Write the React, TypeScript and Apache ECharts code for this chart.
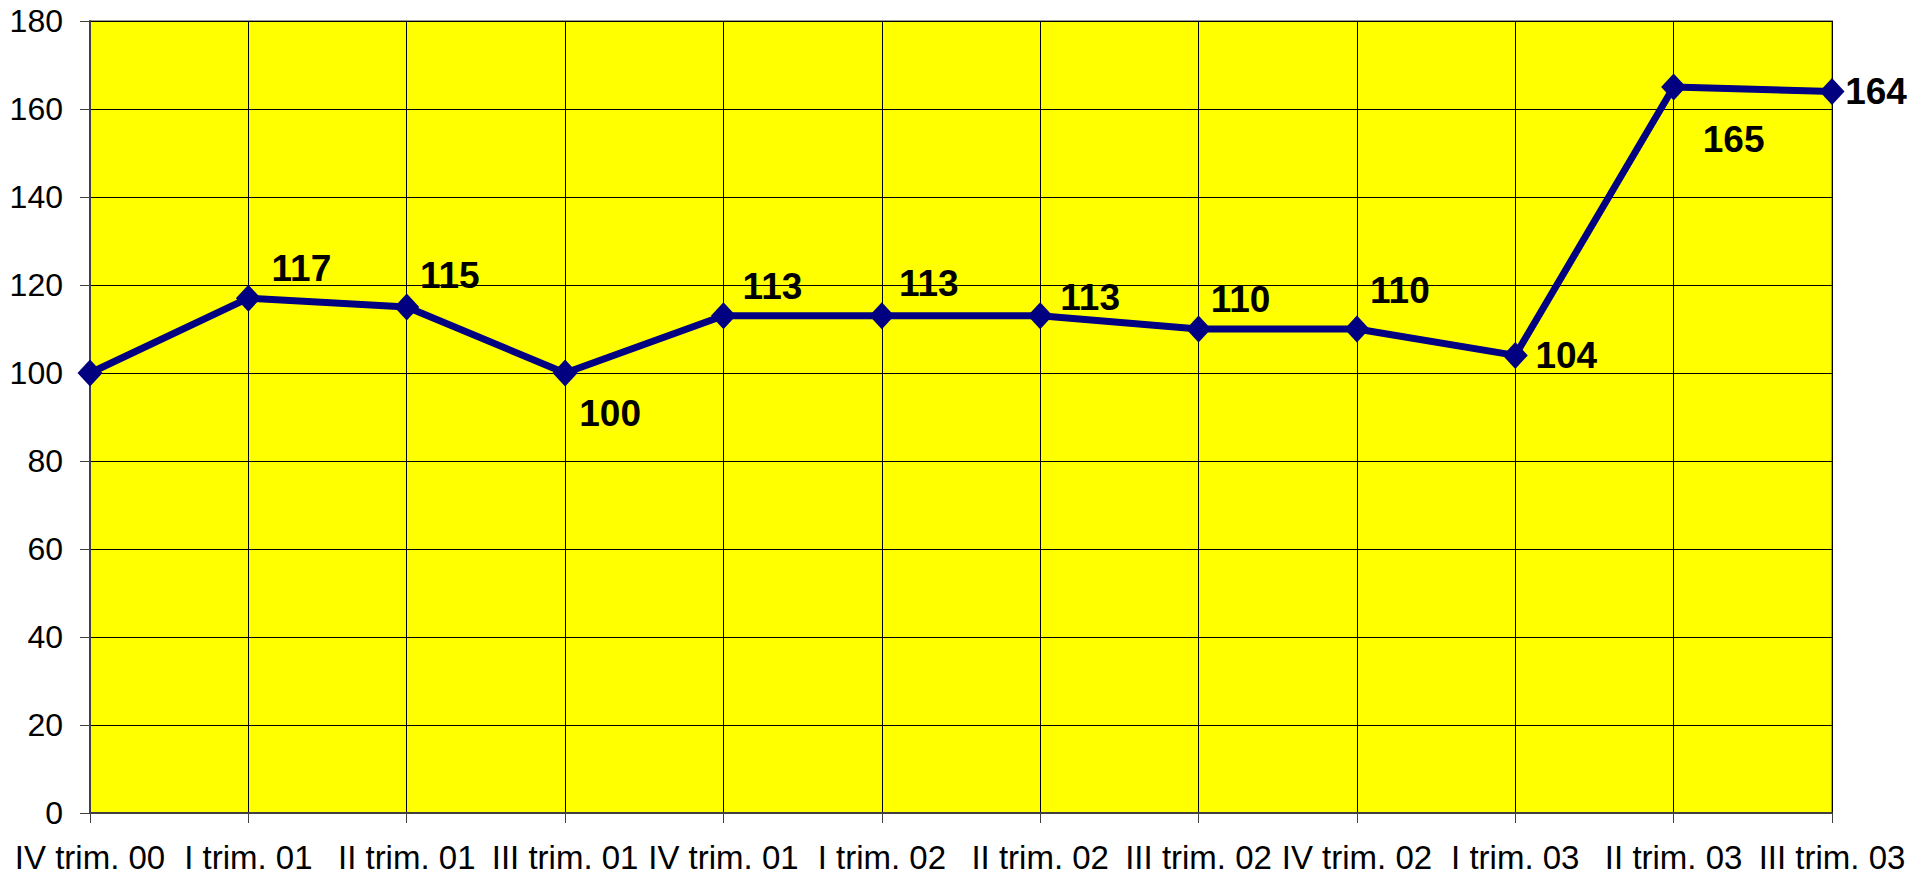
import React, { useEffect, useRef } from "react";
import * as echarts from "echarts";

const categories = [
  "IV trim. 00", "I trim. 01", "II trim. 01", "III trim. 01", "IV trim. 01", "I trim. 02",
  "II trim. 02", "III trim. 02", "IV trim. 02", "I trim. 03", "II trim. 03", "III trim. 03",
];
const values = [100, 117, 115, 100, 113, 113, 113, 110, 110, 104, 165, 164];
const showLabel = [false, true, true, true, true, true, true, true, true, true, true, true];
// label centre offsets relative to the point (style only)
const labelOffsets: [number, number][] = [
  [0, 0], [53, -30], [43, -32], [45, 40], [49, -29], [47, -32],
  [50, -18], [42, -30], [43, -39], [51, 0], [60, 52], [44, 0],
];
const yTicks = { min: 0, max: 180, interval: 20 };

export default function App() {
  const ref = useRef<HTMLDivElement>(null);
  useEffect(() => {
    if (!ref.current) return;
    const chart = echarts.init(ref.current, undefined, { renderer: "svg" });
    const data = values.map((v, i) => ({
      value: v,
      label: {
        show: showLabel[i],
        position: "inside",
        offset: labelOffsets[i],
        align: "center",
        verticalAlign: "middle",
      },
    }));
    chart.setOption({
      animation: false,
      grid: {
        left: 90,
        right: 94,
        top: 21,
        bottom: 65,
        show: true,
        backgroundColor: "#FFFF00",
        borderColor: "#999999",
        borderWidth: 2,
      },
      xAxis: {
        type: "category",
        data: categories,
        boundaryGap: false,
        axisLine: { show: true, lineStyle: { color: "#404040", width: 2 } },
        axisTick: { show: true, length: 10, lineStyle: { color: "#404040", width: 1 } },
        axisLabel: {
          color: "#000",
          fontSize: 33,
          fontFamily: "Liberation Sans, Arial, sans-serif",
          margin: 28,
          interval: 0,
        },
        splitLine: { show: true, lineStyle: { color: "#000", width: 1 } },
      },
      yAxis: {
        type: "value",
        min: yTicks.min,
        max: yTicks.max,
        interval: yTicks.interval,
        axisLine: { show: true, lineStyle: { color: "#404040", width: 2 } },
        axisTick: { show: true, length: 10, lineStyle: { color: "#404040", width: 1 } },
        axisLabel: {
          color: "#000",
          fontSize: 32,
          fontFamily: "Liberation Sans, Arial, sans-serif",
          margin: 27,
        },
        splitLine: { show: true, lineStyle: { color: "#000", width: 1 } },
      },
      series: [
        {
          type: "line",
          data,
          symbol: "diamond",
          symbolSize: [25, 27],
          lineStyle: { color: "#000080", width: 7 },
          itemStyle: { color: "#000080" },
          label: {
            color: "#000",
            fontSize: 37,
            fontWeight: "bold",
            fontFamily: "Liberation Sans, Arial, sans-serif",
          },
          z: 3,
        },
      ],
    });
    return () => chart.dispose();
  }, []);
  return (
    <div
      ref={ref}
      style={{ position: "fixed", left: 0, top: 0, width: 1926, height: 878, background: "#fff" }}
    />
  );
}
